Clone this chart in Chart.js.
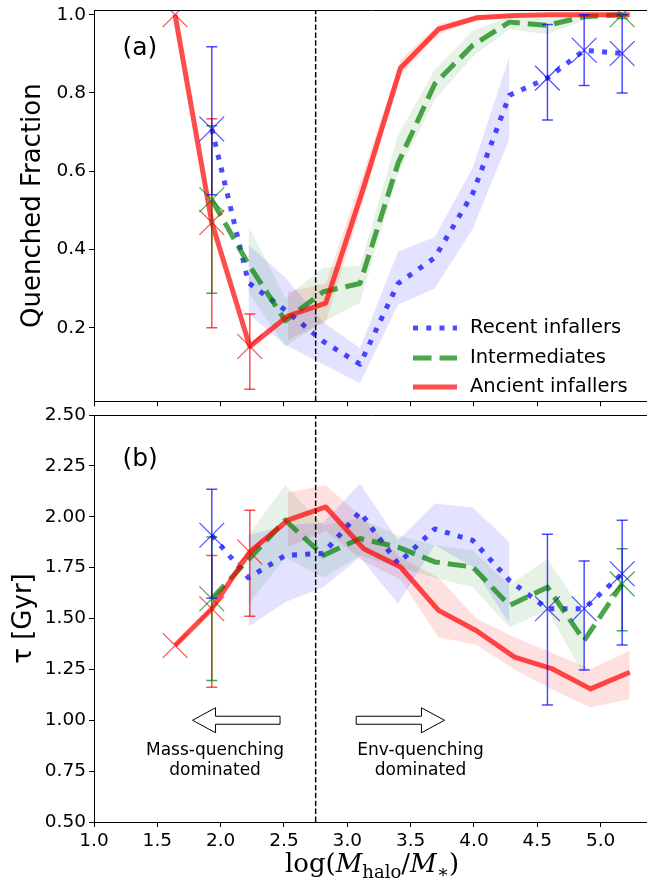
<!DOCTYPE html>
<html>
<head>
<meta charset="utf-8">
<title>Quenched fraction and quenching time</title>
<script src="https://cdn.jsdelivr.net/npm/chart.js@4.4.1/dist/chart.umd.min.js"></script>
<style>
  html, body { margin: 0; padding: 0; background: #fff; overflow: hidden; }
  #wrap { position: relative; width: 647px; height: 884px; overflow: hidden; }
  #top { position: absolute; left: 0; top: -20px; }
  #bottom { position: absolute; left: 0; top: 395px; }
  #xlabel {
    position: absolute; left: 222px; width: 300px; top: 849px;
    text-align: center; color: #000;
    font-family: 'DejaVu Serif', serif; font-size: 26px; line-height: 28px;
  }
  #xlabel sub { font-size: 18px; vertical-align: -6px; line-height: 0; }
</style>
</head>
<body>
<div id="wrap">
  <canvas id="top" width="670" height="440"></canvas>
  <canvas id="bottom" width="670" height="489"></canvas>
  <div id="xlabel">log(<i>M</i><sub>halo</sub>/<i>M</i><sub>∗</sub>)</div>
</div>
<script>
// bin centres, log(Mhalo/M*)
const xRecent  = [1.93, 2.22, 2.51, 2.81, 3.10, 3.40, 3.69, 3.99, 4.28, 4.58, 4.87, 5.17];
const xInter   = [1.93, 2.22, 2.51, 2.81, 3.10, 3.40, 3.69, 3.99, 4.28, 4.58, 4.87, 5.17];
const xAncient = [1.64, 1.93, 2.23, 2.53, 2.83, 3.13, 3.42, 3.72, 4.02, 4.32, 4.62, 4.92, 5.23];

// bins shown as X marker + error bar (the rest get a shaded band)
const markRecent  = [0, 9, 10, 11];
const markInter   = [0, 11];
const markAncient = [0, 1, 2];

// (a) quenched fraction
const qfRecent    = [0.708, 0.315, 0.245, 0.165, 0.107, 0.313, 0.379, 0.543, 0.794, 0.838, 0.909, 0.901];
const qfRecentLo  = [0.540, 0.235, 0.156, 0.107, 0.058, 0.259, 0.300, 0.453, 0.683, 0.731, 0.819, 0.800];
const qfRecentHi  = [0.918, 0.412, 0.329, 0.214, 0.148, 0.395, 0.432, 0.609, 0.893, 0.975, 1.000, 1.000];

const qfInter     = [0.527, 0.362, 0.218, 0.292, 0.313, 0.620, 0.823, 0.922, 0.981, 0.973, 0.995, 1.000];
const qfInterLo   = [0.288, 0.290, 0.153, 0.215, 0.264, 0.593, 0.782, 0.893, 0.962, 0.950, 0.985, 0.990];
const qfInterHi   = [0.716, 0.460, 0.276, 0.354, 0.358, 0.691, 0.860, 0.959, 0.995, 0.990, 1.000, 1.000];

const qfAncient   = [1.000, 0.469, 0.152, 0.230, 0.263, 0.560, 0.864, 0.963, 0.992, 0.998, 1.000, 1.000, 1.000];
const qfAncientLo = [null, 0.200, 0.043, 0.169, 0.214, 0.530, 0.845, 0.950, 0.985, 0.995, 0.996, 0.996, 0.996];
const qfAncientHi = [null, 0.734, 0.235, 0.292, 0.313, 0.600, 0.885, 0.975, 1.000, 1.000, 1.000, 1.000, 1.000];

// (b) quenching time tau [Gyr]
const tauRecent    = [1.909, 1.700, 1.810, 1.820, 2.024, 1.770, 1.940, 1.884, 1.687, 1.548, 1.548, 1.720];
const tauRecentLo  = [1.600, 1.460, 1.580, 1.654, 1.800, 1.572, 1.860, 1.753, 1.474, 1.075, 1.247, 1.370];
const tauRecentHi  = [2.135, 1.909, 1.960, 1.970, 2.163, 1.884, 2.065, 2.045, 1.876, 1.914, 1.782, 1.983];

const tauInter     = [1.597, 1.790, 1.983, 1.810, 1.893, 1.851, 1.778, 1.753, 1.564, 1.654, 1.392, 1.670];
const tauInterLo   = [1.195, 1.570, 1.800, 1.700, 1.810, 1.753, 1.700, 1.654, 1.457, 1.540, 1.219, 1.440];
const tauInterHi   = [1.900, 1.910, 2.155, 1.958, 1.991, 1.909, 1.860, 1.835, 1.663, 1.794, 1.523, 1.843];

const tauAncient   = [1.367, 1.548, 1.827, 1.983, 2.048, 1.843, 1.753, 1.540, 1.440, 1.310, 1.252, 1.154, 1.236];
const tauAncientLo = [null, 1.162, 1.511, 1.850, 1.930, 1.780, 1.690, 1.408, 1.370, 1.250, 1.150, 1.063, 1.104];
const tauAncientHi = [null, 1.810, 2.032, 2.120, 2.155, 1.990, 1.800, 1.700, 1.500, 1.408, 1.330, 1.252, 1.342];

// tick positions
const xTicks   = [1.0, 1.5, 2.0, 2.5, 3.0, 3.5, 4.0, 4.5, 5.0];
const qfTicks  = [0.2, 0.4, 0.6, 0.8, 1.0];
const tauTicks = [0.5, 0.75, 1.0, 1.25, 1.5, 1.75, 2.0, 2.25, 2.5];

const divider = 2.75;
const seriesNames = ['Recent infallers', 'Intermediates', 'Ancient infallers'];

const styles = [
    { line: 'rgba(0, 0, 255, 0.7)', band: 'rgba(0, 0, 255, 0.11)', dash: [5, 8.25] },
    { line: 'rgba(0, 128, 0, 0.7)', band: 'rgba(0, 128, 0, 0.1)',  dash: [18.5, 8] },
    { line: 'rgba(255, 0, 0, 0.7)', band: 'rgba(255, 0, 0, 0.12)', dash: [] }
];

Chart.defaults.font.family = "'DejaVu Sans', sans-serif";
Chart.defaults.color = '#000';

function pts(xs, ys, idx) {
    const list = idx || xs.map((_, i) => i);
    return list.filter(i => ys[i] != null).map(i => ({ x: xs[i], y: ys[i] }));
}

function buildDatasets(series, ymin, ymax) {
    const marks = [], bars = [], lines = [], bands = [];
    series.forEach((s, k) => {
        const st = styles[k];
        lines.unshift({
            data: pts(s.x, s.y), borderColor: st.line, borderWidth: 5,
            borderDash: st.dash, borderJoinStyle: 'round', pointRadius: 0
        });
        marks.push({
            data: pts(s.x, s.y, s.marks), showLine: false,
            pointStyle: 'crossRot', pointRadius: 17.5, pointBorderWidth: 1.2,
            pointBorderColor: st.line, pointBackgroundColor: 'transparent'
        });
        s.marks.forEach(i => {
            if (s.lo[i] == null) return;
            bars.push({
                data: [{ x: s.x[i], y: s.lo[i] }, { x: s.x[i], y: s.hi[i] }],
                borderColor: st.line, borderWidth: 1.5,
                pointStyle: 'line', pointRadius: 5.5, pointBorderWidth: 1.5,
                pointBorderColor: st.line
            });
        });
        const idx = s.x.map((_, i) => i).filter(i => !s.marks.includes(i) && s.lo[i] != null);
        bands.push({
            data: pts(s.x, s.lo, idx), borderColor: 'transparent', borderWidth: 0,
            pointRadius: 0, fill: false
        });
        bands.push({
            data: pts(s.x, s.hi, idx), borderColor: 'transparent', borderWidth: 0,
            pointRadius: 0, fill: '-1', backgroundColor: st.band
        });
    });
    const vline = {
        data: [{ x: divider, y: ymin }, { x: divider, y: ymax }],
        borderColor: '#000', borderWidth: 1.5, borderDash: [5.5, 2.4], pointRadius: 0
    };
    return [vline, ...marks, ...bars, ...lines, ...bands];
}

function fixedTicks(values) {
    return scale => { scale.ticks = values.map(v => ({ value: v })); };
}

const axisGrid = { display: true, drawOnChartArea: false, drawTicks: true, tickLength: 5, color: '#000', lineWidth: 1 };
const axisBorder = { display: true, color: '#000', width: 1 };

// top and right spines
const framePlugin = {
    id: 'frame',
    afterDraw(chart) {
        const { ctx, chartArea: a } = chart;
        ctx.save();
        ctx.strokeStyle = '#000';
        ctx.lineWidth = 1;
        ctx.beginPath();
        ctx.moveTo(a.left, Math.round(a.top) + 0.5);
        ctx.lineTo(a.right, Math.round(a.top) + 0.5);
        ctx.lineTo(a.right, a.bottom);
        ctx.stroke();
        ctx.restore();
    }
};

function panelLabel(text, xv, yv) {
    return {
        id: 'label' + text,
        afterDraw(chart) {
            const { ctx, scales } = chart;
            ctx.save();
            ctx.font = "25px 'DejaVu Sans'";
            ctx.fillStyle = '#000';
            ctx.textAlign = 'left';
            ctx.textBaseline = 'middle';
            ctx.fillText(text, scales.x.getPixelForValue(xv), scales.y.getPixelForValue(yv));
            ctx.restore();
        }
    };
}

const legendPlugin = {
    id: 'lineLegend',
    afterDraw(chart) {
        const { ctx, chartArea: a } = chart;
        const rowsY = [318, 348, 377];
        ctx.save();
        ctx.font = "19.5px 'DejaVu Sans'";
        ctx.fillStyle = '#000';
        ctx.textBaseline = 'middle';
        ctx.textAlign = 'left';
        seriesNames.forEach((name, k) => {
            const y = a.top + rowsY[k];
            ctx.strokeStyle = styles[k].line;
            ctx.lineWidth = 5;
            ctx.setLineDash(styles[k].dash);
            ctx.beginPath();
            ctx.moveTo(a.left + 319, y);
            ctx.lineTo(a.left + 363, y);
            ctx.stroke();
            ctx.setLineDash([]);
            ctx.fillText(name, a.left + 376, y);
        });
        ctx.restore();
    }
};

function drawArrow(ctx, xTail, xTip, y) {
    const headLen = 23, headHalf = 12.5, shaftHalf = 4;
    const dir = Math.sign(xTip - xTail);
    const xBase = xTip - dir * headLen;
    ctx.beginPath();
    ctx.moveTo(xTail, y - shaftHalf);
    ctx.lineTo(xBase, y - shaftHalf);
    ctx.lineTo(xBase, y - headHalf);
    ctx.lineTo(xTip, y);
    ctx.lineTo(xBase, y + headHalf);
    ctx.lineTo(xBase, y + shaftHalf);
    ctx.lineTo(xTail, y + shaftHalf);
    ctx.closePath();
    ctx.fillStyle = '#fff';
    ctx.fill();
    ctx.strokeStyle = '#000';
    ctx.lineWidth = 1;
    ctx.stroke();
}

const regimePlugin = {
    id: 'regimes',
    afterDraw(chart) {
        const { ctx, scales: { x, y } } = chart;
        ctx.save();
        const ay = y.getPixelForValue(1.0);
        drawArrow(ctx, x.getPixelForValue(2.469), x.getPixelForValue(1.778), ay);
        drawArrow(ctx, x.getPixelForValue(3.07), x.getPixelForValue(3.767), ay);
        ctx.font = "17px 'DejaVu Sans'";
        ctx.fillStyle = '#000';
        ctx.textAlign = 'center';
        ctx.textBaseline = 'middle';
        ctx.fillText('Mass-quenching', x.getPixelForValue(1.956), y.getPixelForValue(0.853));
        ctx.fillText('dominated', x.getPixelForValue(1.956), y.getPixelForValue(0.755));
        ctx.fillText('Env-quenching', x.getPixelForValue(3.578), y.getPixelForValue(0.853));
        ctx.fillText('dominated', x.getPixelForValue(3.578), y.getPixelForValue(0.755));
        ctx.restore();
    }
};

const commonOptions = {
    responsive: false,
    devicePixelRatio: 1,
    animation: false,
    events: [],
    plugins: { legend: { display: false }, tooltip: { enabled: false } }
};

const topSeries = [
    { x: xRecent,  y: qfRecent,  lo: qfRecentLo,  hi: qfRecentHi,  marks: markRecent },
    { x: xInter,   y: qfInter,   lo: qfInterLo,   hi: qfInterHi,   marks: markInter },
    { x: xAncient, y: qfAncient, lo: qfAncientLo, hi: qfAncientHi, marks: markAncient }
];
const bottomSeries = [
    { x: xRecent,  y: tauRecent,  lo: tauRecentLo,  hi: tauRecentHi,  marks: markRecent },
    { x: xInter,   y: tauInter,   lo: tauInterLo,   hi: tauInterHi,   marks: markInter },
    { x: xAncient, y: tauAncient, lo: tauAncientLo, hi: tauAncientHi, marks: markAncient }
];

const qfMin = 0.012, qfMax = 1.012;
const tauMin = 0.5, tauMax = 2.5;

new Chart(document.getElementById('top'), {
    type: 'line',
    data: { datasets: buildDatasets(topSeries, qfMin, qfMax) },
    options: {
        ...commonOptions,
        layout: { padding: { top: 30, right: 8.4, bottom: 0, left: 0 } },
        scales: {
            x: {
                type: 'linear', min: 1, max: 5.4,
                afterFit: s => { s.height = 5; },
                afterBuildTicks: fixedTicks(xTicks),
                ticks: { display: false },
                grid: axisGrid, border: axisBorder
            },
            y: {
                min: qfMin, max: qfMax,
                afterFit: s => { s.width = 94; },
                afterBuildTicks: fixedTicks(qfTicks),
                ticks: { padding: 3, font: { size: 18.5 }, callback: v => v.toFixed(1) },
                grid: axisGrid, border: axisBorder,
                title: { display: true, text: 'Quenched Fraction', font: { size: 26 },
                         padding: { top: 18, bottom: 0 } }
            }
        }
    },
    plugins: [framePlugin, legendPlugin, panelLabel('(a)', 1.225, 0.913)]
});

new Chart(document.getElementById('bottom'), {
    type: 'line',
    data: { datasets: buildDatasets(bottomSeries, tauMin, tauMax) },
    options: {
        ...commonOptions,
        layout: { padding: { top: 20, right: 8.4, bottom: 0, left: 0 } },
        scales: {
            x: {
                type: 'linear', min: 1, max: 5.4,
                afterFit: s => { s.height = 62; },
                afterBuildTicks: fixedTicks(xTicks),
                ticks: { padding: 3, maxRotation: 0, font: { size: 18.5 }, callback: v => v.toFixed(1) },
                grid: axisGrid, border: axisBorder
            },
            y: {
                min: tauMin, max: tauMax,
                afterFit: s => { s.width = 94; },
                afterBuildTicks: fixedTicks(tauTicks),
                ticks: { padding: 3, font: { size: 18.5 }, callback: v => v.toFixed(2) },
                grid: axisGrid, border: axisBorder,
                title: { display: true, text: 'τ [Gyr]', font: { size: 26 },
                         padding: { top: 9, bottom: 0 } }
            }
        }
    },
    plugins: [framePlugin, regimePlugin, panelLabel('(b)', 1.225, 2.279)]
});
</script>
</body>
</html>
